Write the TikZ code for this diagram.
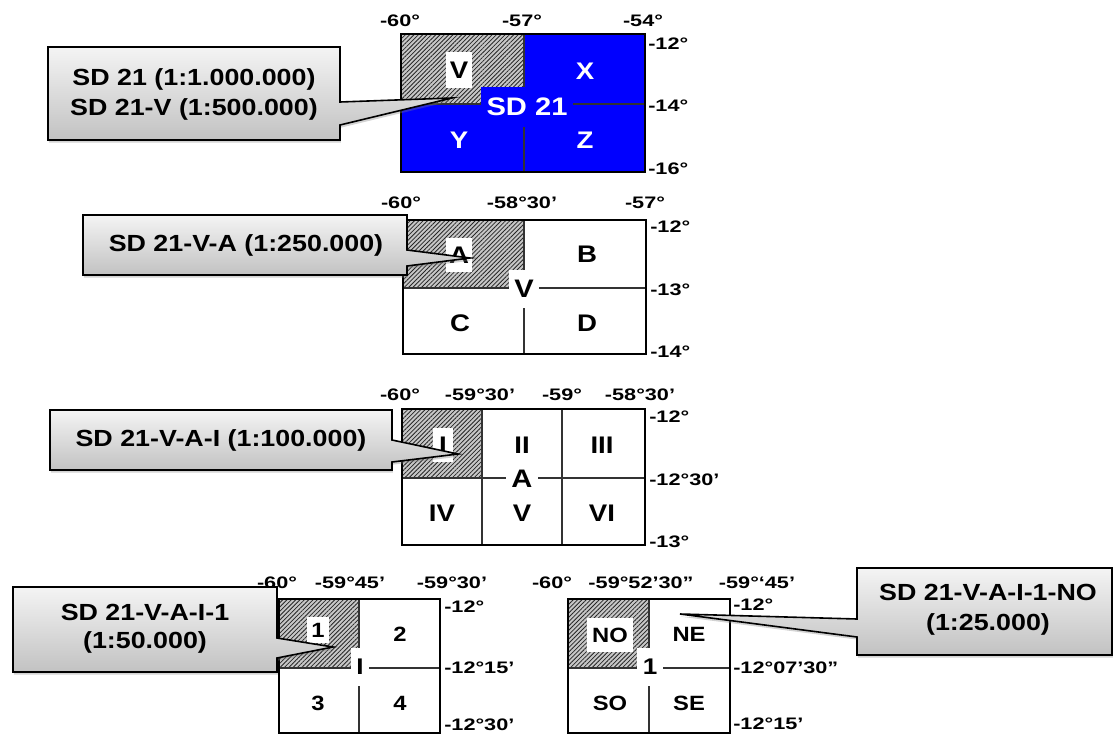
\documentclass[tikz,border=0pt]{standalone}
\usepackage{fontspec}
\setmainfont{Liberation Sans}
\newfontfamily\mapfont{Liberation Sans}[FakeStretch=1.15]
\newfontfamily\gridfont{Liberation Sans}[FakeStretch=1.3]
\usetikzlibrary{patterns.meta,shadows}
\definecolor{Sheet}{HTML}{0000FF}
\definecolor{Hatch}{HTML}{262626}
\definecolor{TagTop}{HTML}{F4F4F4}
\definecolor{TagBot}{HTML}{C2C2C2}

\begin{document}
\begin{tikzpicture}[x=0.75pt,y=-0.75pt,
  sheetline/.style={draw=black,line width=1.5pt},
  splitline/.style={draw=black!80,line width=0.8pt},
  hatch/.style={fill=black!22,postaction={pattern={Lines[angle=45,distance=2.3pt,line width=0.6pt]},pattern color=Hatch}},
  calloutbox/.style={draw=black,line width=1.2pt,top color=TagTop,bottom color=TagBot,drop shadow={shadow xshift=0.6pt,shadow yshift=-2pt,opacity=0.35}},
  tagtext/.style={font=\mapfont\bfseries\fontsize{17.5}{22.5}\selectfont,align=center,inner sep=0pt},
  cell/.style={font=\mapfont\bfseries\fontsize{18}{21}\selectfont,inner sep=0pt},
  smallcell/.style={font=\mapfont\bfseries\fontsize{15.5}{18}\selectfont,inner sep=0pt},
  mid/.style={font=\mapfont\bfseries\fontsize{19}{22}\selectfont,fill=white,inner xsep=4pt,inner ysep=0pt,minimum height=29pt},
  deg/.style={font=\gridfont\bfseries\fontsize{12.5}{14}\selectfont,inner sep=0pt},
  rightlbl/.style={deg,anchor=west}]
\useasboundingbox (0,0) rectangle (1116,735);

\fill[Sheet] (401,34) rectangle (645,172);
\fill[hatch] (401,34) rectangle (524,104);
\draw[splitline] (524,34) -- (524,172) (401,104) -- (645,104);
\draw[sheetline] (401,34) rectangle (645,172);
\node[cell,fill=white,minimum width=19.5pt,minimum height=27pt] (v1) at (459,70) {V};
\node[cell,text=white] (x1) at (585,71) {X};
\node[cell,text=white] (y1) at (459,140) {Y};
\node[cell,text=white] (z1) at (585,140) {Z};
\node[mid,fill=Sheet,text=white,minimum height=30pt] (sd21) at (527,107) {SD 21};
\foreach \t/\x [count=\i] in {-60°/400,-57°/522,-54°/643}
  \node[deg] (lon1-\i) at (\x,21) {\t};
\foreach \t/\y [count=\i] in {-12°/44,-14°/106,-16°/169}
  \node[rightlbl] (lat1-\i) at (648,\y) {\t};

\fill[white] (403,220) rectangle (646,354);
\fill[hatch] (403,220) rectangle (524,288);
\draw[splitline] (524,220) -- (524,354) (403,288) -- (646,288);
\draw[sheetline] (403,220) rectangle (646,354);
\node[cell,fill=white,minimum width=19.5pt,minimum height=26pt] (a2) at (459,255) {A};
\node[cell] (b2) at (587,254) {B};
\node[cell] (c2) at (460,323) {C};
\node[cell] (d2) at (587,323) {D};
\node[mid] (v2) at (524,289) {V};
\foreach \t/\x [count=\i] in {-60°/401,-58°30’/522,-57°/645}
  \node[deg] (lon2-\i) at (\x,203) {\t};
\foreach \t/\y [count=\i] in {-12°/227,-13°/290,-14°/352}
  \node[rightlbl] (lat2-\i) at (650,\y) {\t};

\fill[white] (402,409) rectangle (645,545);
\fill[hatch] (402,409) rectangle (482,478);
\draw[splitline] (482,409) -- (482,545) (562,409) -- (562,545) (402,478) -- (645,478);
\draw[sheetline] (402,409) rectangle (645,545);
\node[cell,fill=white,minimum width=15pt,minimum height=26pt] (i3) at (443,445) {I};
\node[cell] (ii3) at (522,445) {II};
\node[cell] (iii3) at (602,445) {III};
\node[cell] (iv3) at (442,513) {IV};
\node[cell] (v3) at (522,513) {V};
\node[cell] (vi3) at (602,513) {VI};
\node[mid] (a3) at (522,479) {A};
\foreach \t/\x [count=\i] in {-60°/400,-59°30’/480,-59°/562,-58°30’/640}
  \node[deg] (lon3-\i) at (\x,395) {\t};
\foreach \t/\y [count=\i] in {-12°/417,-12°30’/480,-13°/542}
  \node[rightlbl] (lat3-\i) at (649,\y) {\t};

\fill[white] (279,599) rectangle (440,733);
\fill[hatch] (279,599) rectangle (359,668);
\draw[splitline] (359,599) -- (359,733) (279,668) -- (440,668);
\draw[sheetline] (279,599) rectangle (440,733);
\node[smallcell,fill=white,minimum width=17pt,minimum height=19.5pt] (n1) at (318,630) {1};
\node[smallcell] (n2) at (400,634) {2};
\node[smallcell] (n3) at (318,703) {3};
\node[smallcell] (n4) at (400,703) {4};
\node[mid,font=\mapfont\bfseries\fontsize{17}{20}\selectfont] (i4) at (360,667) {I};
\foreach \t/\x [count=\i] in {-60°/277,-59°45’/350,-59°30’/452}
  \node[deg] (lon4-\i) at (\x,583) {\t};
\foreach \t/\y [count=\i] in {-12°/607,-12°15’/668,-12°30’/725}
  \node[rightlbl] (lat4-\i) at (444,\y) {\t};

\fill[white] (568,599) rectangle (730,733);
\fill[hatch] (568,599) rectangle (649,668);
\draw[splitline] (649,599) -- (649,733) (568,668) -- (730,668);
\draw[sheetline] (568,599) rectangle (730,733);
\node[smallcell,fill=white,minimum width=35pt,minimum height=25pt] (no5) at (610,635) {NO};
\node[smallcell] (ne5) at (689,634) {NE};
\node[smallcell] (so5) at (610,703) {SO};
\node[smallcell] (se5) at (689,703) {SE};
\node[mid,font=\mapfont\bfseries\fontsize{17}{20}\selectfont] (one5) at (650,667) {1};
\foreach \t/\x [count=\i] in {-60°/552,-59°52’30”/641,-59°‘45’/757}
  \node[deg] (lon5-\i) at (\x,583) {\t};
\foreach \t/\y [count=\i] in {-12°/605,-12°07’30”/668,-12°15’/724}
  \node[rightlbl] (lat5-\i) at (733,\y) {\t};

\path[calloutbox] (48,47) -- (340,47) -- (340,102) -- (452,98) -- (340,125) -- (340,140) -- (48,140) -- cycle;
\node[tagtext] (tag1) at (194,94) {SD 21 (1:1.000.000)\\SD 21-V (1:500.000)};
\path[calloutbox] (83,215) -- (407,215) -- (407,250) -- (470,258) -- (407,266) -- (407,275) -- (83,275) -- cycle;
\node[tagtext] (tag2) at (246,245) {SD 21-V-A (1:250.000)};
\path[calloutbox] (50,410) -- (392,410) -- (392,440) -- (458,454) -- (392,462) -- (392,470) -- (50,470) -- cycle;
\node[tagtext] (tag3) at (221,440) {SD 21-V-A-I (1:100.000)};
\path[calloutbox] (13,587) -- (277,587) -- (277,638) -- (333,647) -- (277,658) -- (277,672) -- (13,672) -- cycle;
\node[tagtext,font=\mapfont\bfseries\fontsize{17.5}{21}\selectfont] (tag4) at (145,629) {SD 21-V-A-I-1\\(1:50.000)};
\path[calloutbox] (857,568) -- (1112,568) -- (1112,655) -- (857,655) -- (857,637) -- (680,614) -- (857,619) -- cycle;
\node[tagtext] (tag5) at (988,610) {SD 21-V-A-I-1-NO\\(1:25.000)};
\end{tikzpicture}
\end{document}
